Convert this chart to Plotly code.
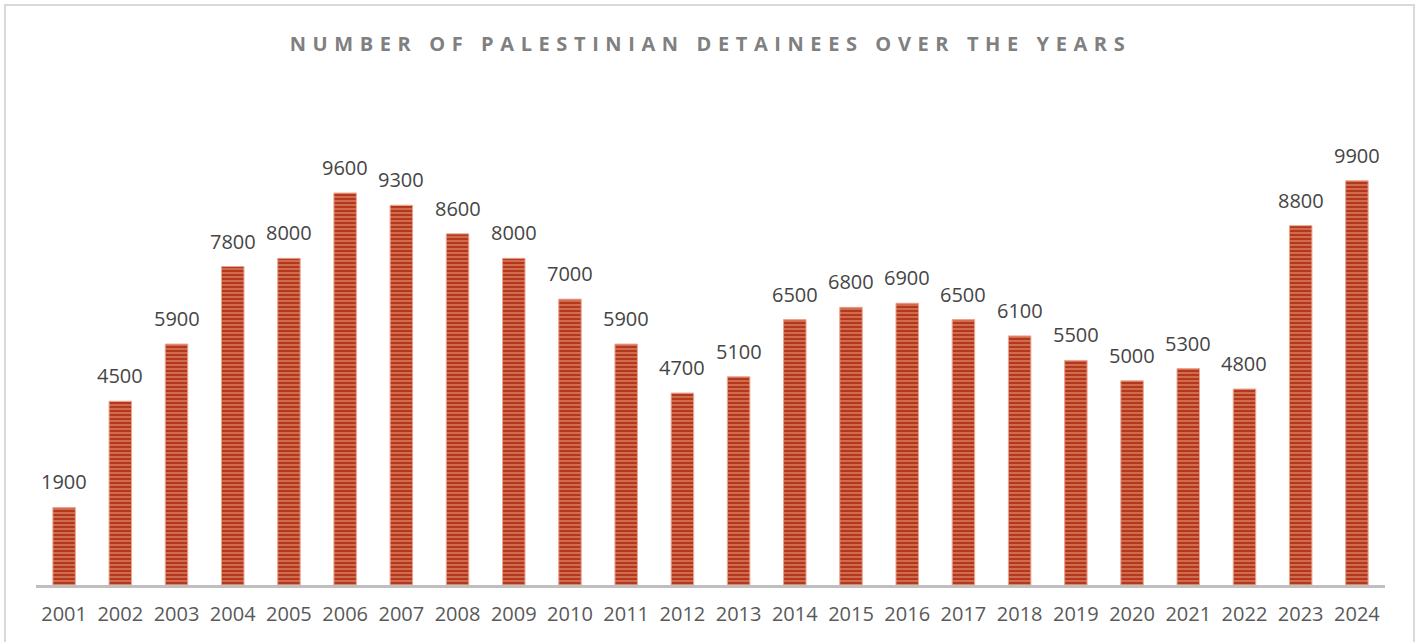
import plotly.graph_objects as go

years = [str(y) for y in range(2001, 2025)]
detainees = [1900, 4500, 5900, 7800, 8000, 9600, 9300, 8600, 8000, 7000, 5900, 4700,
             5100, 6500, 6800, 6900, 6500, 6100, 5500, 5000, 5300, 4800, 8800, 9900]
title_text = "NUMBER OF PALESTINIAN DETAINEES OVER THE YEARS"

fig = go.Figure()
fig.add_trace(go.Bar(
    x=years, y=detainees, width=0.4,
    marker=dict(
        color="#b4381b",
        line=dict(color="#eba592", width=1),
        pattern=dict(shape="-", fgcolor="#f2a890", bgcolor="#b4381b", size=4, solidity=0.45),
    ),
    hoverinfo="x+y",
))

# category axes treat numeric-looking strings as indices in annotations, so use the index
for i, v in enumerate(detainees):
    fig.add_annotation(x=i, y=v, text=str(v), showarrow=False, yanchor="bottom",
                       yshift=10, font=dict(size=20, color="#454545", family="Open Sans"))

fig.add_shape(type="rect", xref="paper", yref="paper",
              x0=-0.023, x1=1.0215, y0=-0.13, y1=1.1837,
              line=dict(color="#d9d9d9", width=2), fillcolor="rgba(0,0,0,0)", layer="below")

fig.update_layout(
    width=1421, height=642,
    margin=dict(l=36, r=36, t=95, b=57),
    paper_bgcolor="white", plot_bgcolor="white",
    showlegend=False,
    title=dict(text=title_text, x=0.5, xanchor="center", y=0.932, yanchor="middle",
               font=dict(size=20, color="#808080", family="Open Sans", weight="bold")),
    xaxis=dict(type="category", range=[-0.5, len(years) - 0.5], showline=True,
               linecolor="#bfbfbf", linewidth=3, ticks="",
               tickfont=dict(size=20, color="#595959", family="Open Sans"),
               ticklabelstandoff=9, showgrid=False, fixedrange=True),
    yaxis=dict(range=[0, 12000], visible=False, showgrid=False, zeroline=False, fixedrange=True),
    bargap=0.6,
)

post = """
document.body.style.margin = '0';
var t = document.querySelector('.gtitle');
if (t) { t.style.letterSpacing = '6.6px'; }
"""
fig.write_html("out.html", post_script=post, config={"displayModeBar": False})
